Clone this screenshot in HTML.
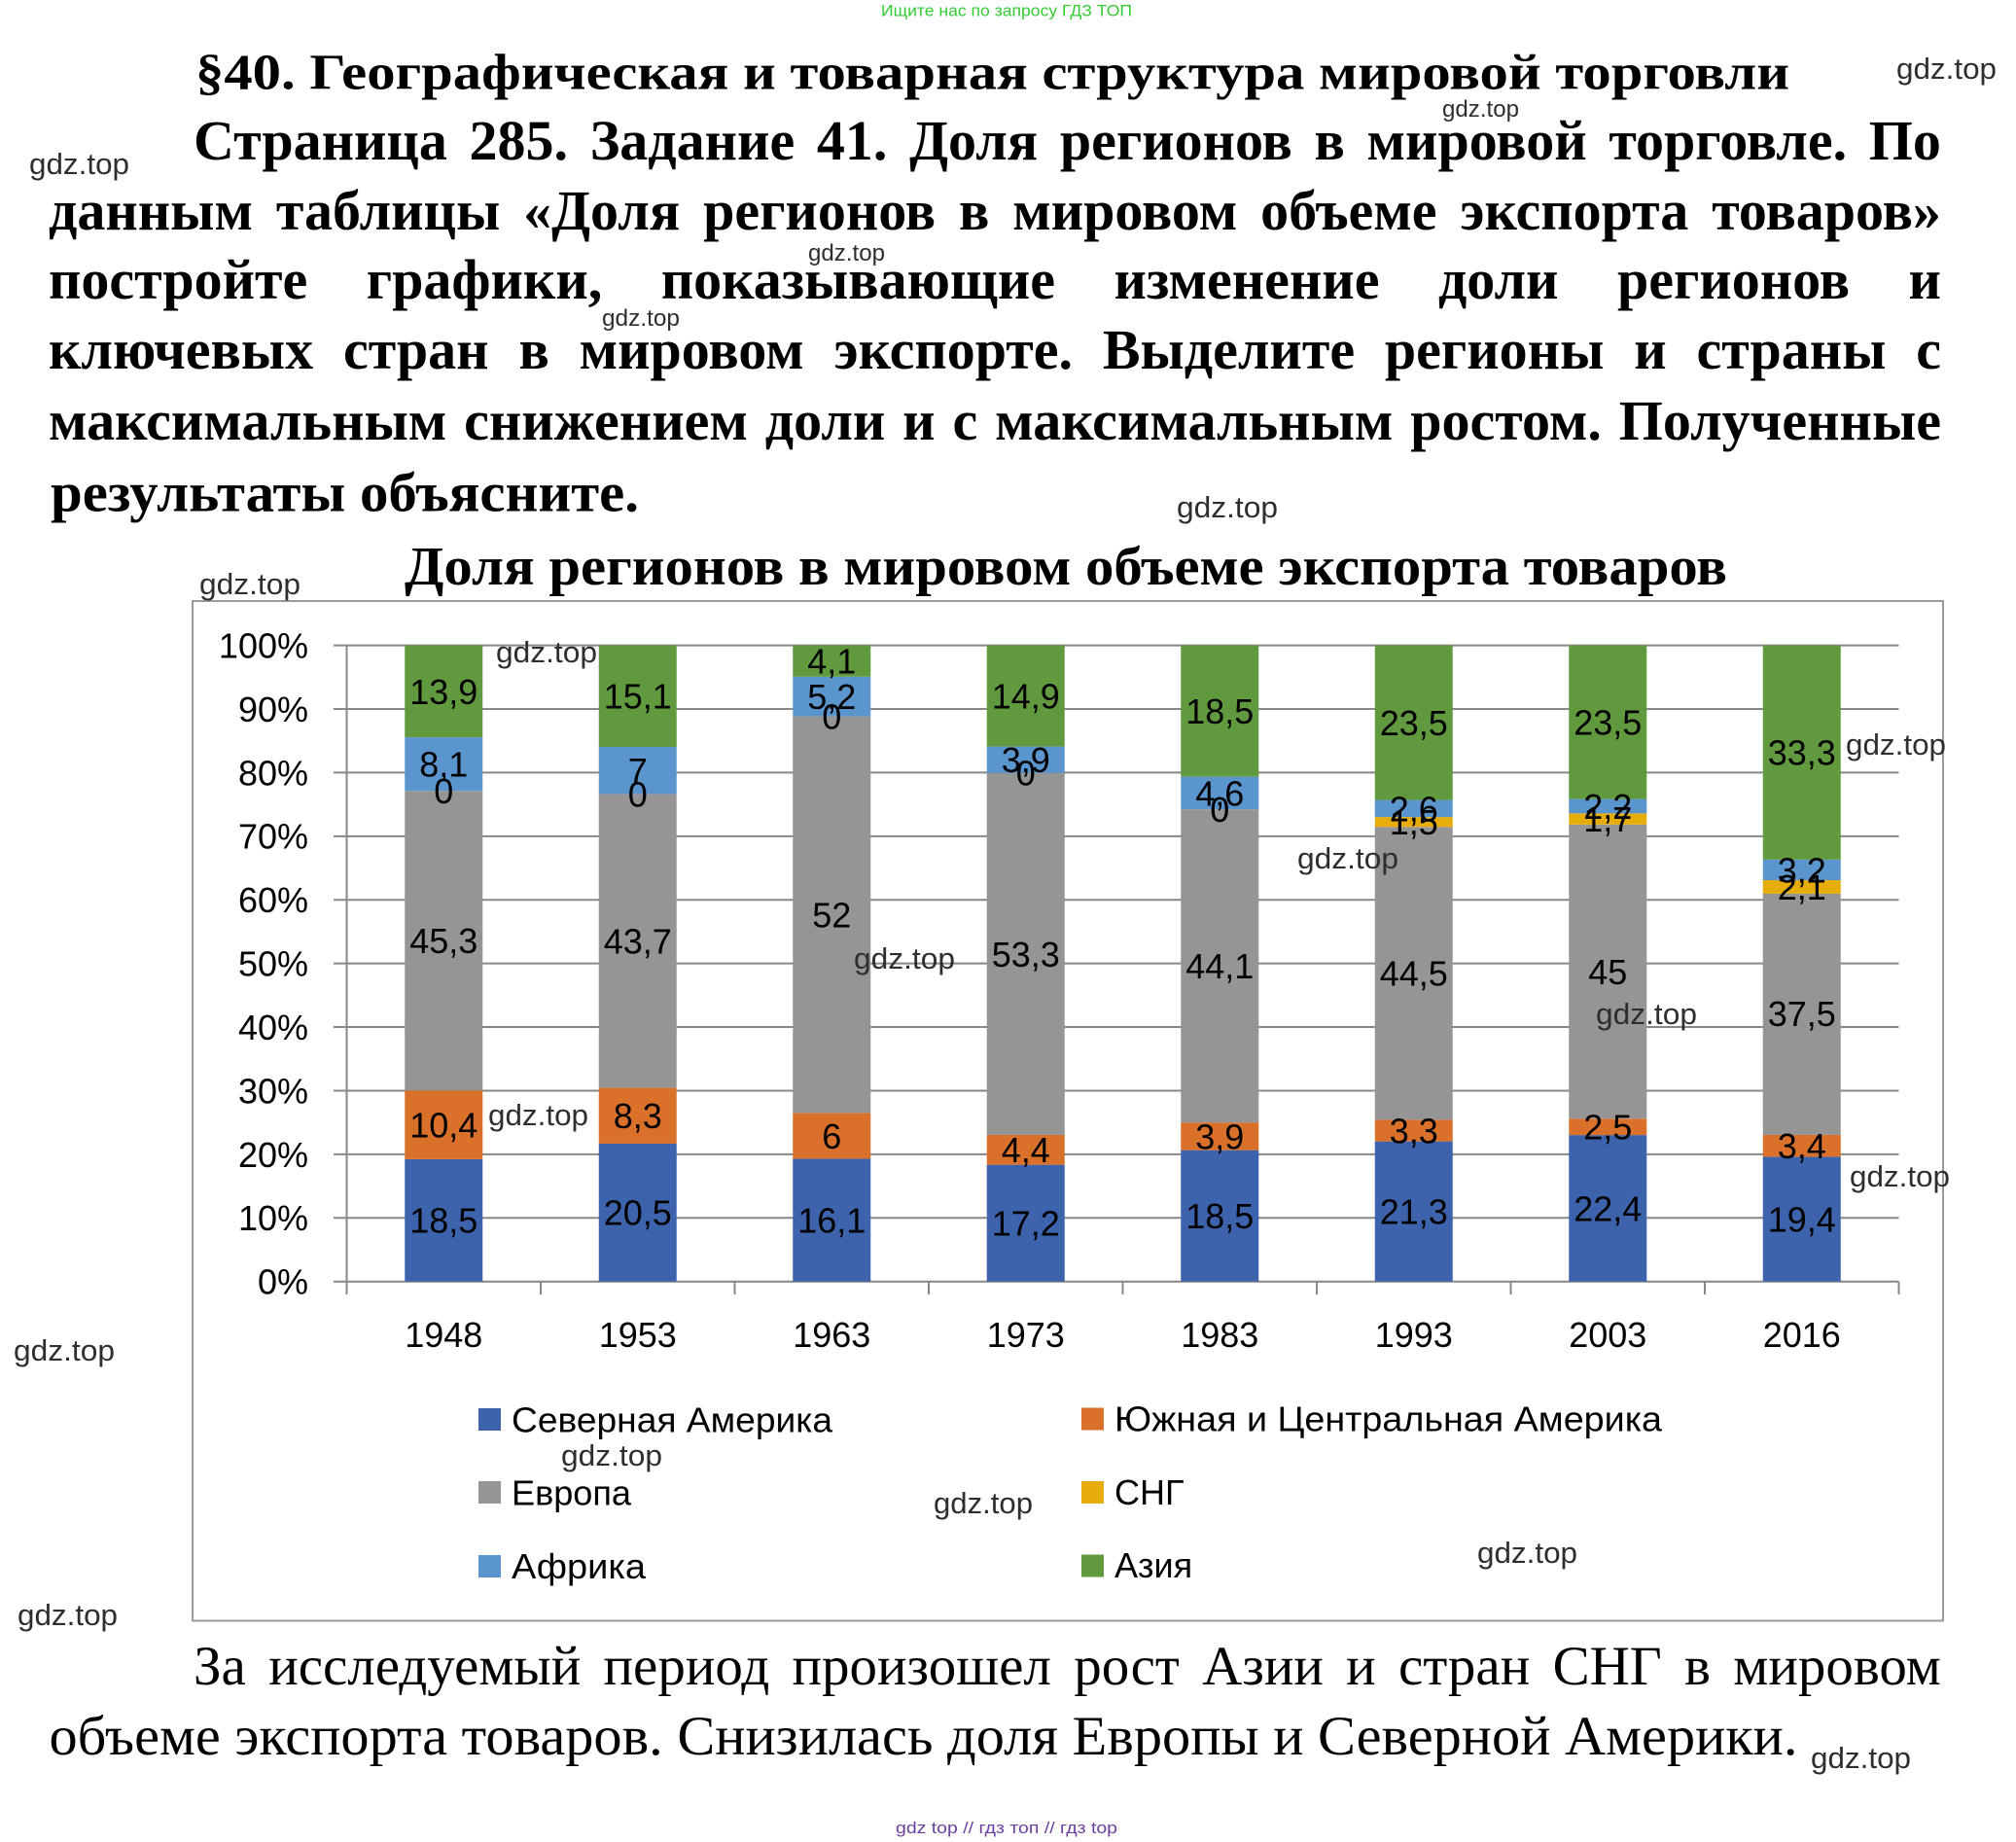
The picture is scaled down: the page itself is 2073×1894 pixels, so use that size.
<!DOCTYPE html>
<html><head><meta charset="utf-8">
<style>
html,body{margin:0;padding:0;background:#fff;}
#root{position:relative;width:2073px;height:1894px;overflow:hidden;background:#fff;}
svg{position:absolute;left:0;top:0;}
.ln{position:absolute;display:flex;justify-content:space-between;align-items:baseline;white-space:nowrap;font-family:"Liberation Serif","Noto Serif CJK SC",serif;font-size:58px;line-height:58px;height:58px;color:#000;}
.b{font-weight:bold;}
.r{font-size:57px;line-height:57px;height:57px;}
</style></head><body><div id="root">
<svg width="2073" height="1894" viewBox="0 0 2073 1894" xmlns="http://www.w3.org/2000/svg">
<g font-family="Liberation Serif, serif" font-weight="bold" fill="#000">
<text x="201" y="91.7" font-size="52" textLength="1639" lengthAdjust="spacingAndGlyphs">§40. Географическая и товарная структура мировой торговли</text>
<text x="52" y="525.5" font-size="57" textLength="605" lengthAdjust="spacingAndGlyphs">результаты объясните.</text>
<text x="416" y="601" font-size="56" textLength="1360" lengthAdjust="spacingAndGlyphs">Доля регионов в мировом объеме экспорта товаров</text>
</g>
<text x="50.5" y="1804" font-family="Liberation Serif, serif" font-size="57" textLength="1798" lengthAdjust="spacingAndGlyphs">объеме экспорта товаров. Снизилась доля Европы и Северной Америки.</text>

<rect x="198" y="618" width="1800" height="1048.5" fill="#fff" stroke="#9a9a9a" stroke-width="2"/>
<g stroke="#878787" stroke-width="2">
<line x1="343" y1="1317.7" x2="1952.5" y2="1317.7"/>
<line x1="343" y1="1252.29" x2="1952.5" y2="1252.29"/>
<line x1="343" y1="1186.88" x2="1952.5" y2="1186.88"/>
<line x1="343" y1="1121.47" x2="1952.5" y2="1121.47"/>
<line x1="343" y1="1056.06" x2="1952.5" y2="1056.06"/>
<line x1="343" y1="990.65" x2="1952.5" y2="990.65"/>
<line x1="343" y1="925.24" x2="1952.5" y2="925.24"/>
<line x1="343" y1="859.83" x2="1952.5" y2="859.83"/>
<line x1="343" y1="794.42" x2="1952.5" y2="794.42"/>
<line x1="343" y1="729.01" x2="1952.5" y2="729.01"/>
<line x1="343" y1="663.6" x2="1952.5" y2="663.6"/>
<line x1="356.5" y1="663.6" x2="356.5" y2="1331"/>
<line x1="556" y1="1317.7" x2="556" y2="1331"/>
<line x1="755.5" y1="1317.7" x2="755.5" y2="1331"/>
<line x1="955" y1="1317.7" x2="955" y2="1331"/>
<line x1="1154.5" y1="1317.7" x2="1154.5" y2="1331"/>
<line x1="1354" y1="1317.7" x2="1354" y2="1331"/>
<line x1="1553.5" y1="1317.7" x2="1553.5" y2="1331"/>
<line x1="1753" y1="1317.7" x2="1753" y2="1331"/>
<line x1="1952.5" y1="1317.7" x2="1952.5" y2="1331"/>
</g>

<g>
<rect x="416.25" y="1191.91" width="80" height="125.79" fill="#3c63ab"/>
<rect x="416.25" y="1121.2" width="80" height="70.71" fill="#d9712b"/>
<rect x="416.25" y="813.19" width="80" height="308.01" fill="#959595"/>
<rect x="416.25" y="758.11" width="80" height="55.08" fill="#5b95cd"/>
<rect x="416.25" y="663.6" width="80" height="94.51" fill="#619a3e"/>
<rect x="615.75" y="1175.96" width="80" height="141.74" fill="#3c63ab"/>
<rect x="615.75" y="1118.57" width="80" height="57.39" fill="#d9712b"/>
<rect x="615.75" y="816.41" width="80" height="302.16" fill="#959595"/>
<rect x="615.75" y="768.01" width="80" height="48.4" fill="#5b95cd"/>
<rect x="615.75" y="663.6" width="80" height="104.41" fill="#619a3e"/>
<rect x="815.25" y="1191.43" width="80" height="126.27" fill="#3c63ab"/>
<rect x="815.25" y="1144.37" width="80" height="47.06" fill="#d9712b"/>
<rect x="815.25" y="736.54" width="80" height="407.83" fill="#959595"/>
<rect x="815.25" y="695.75" width="80" height="40.79" fill="#5b95cd"/>
<rect x="815.25" y="663.6" width="80" height="32.15" fill="#619a3e"/>
<rect x="1014.75" y="1197.63" width="80" height="120.07" fill="#3c63ab"/>
<rect x="1014.75" y="1166.92" width="80" height="30.71" fill="#d9712b"/>
<rect x="1014.75" y="794.84" width="80" height="372.08" fill="#959595"/>
<rect x="1014.75" y="767.61" width="80" height="27.23" fill="#5b95cd"/>
<rect x="1014.75" y="663.6" width="80" height="104.01" fill="#619a3e"/>
<rect x="1214.25" y="1182.65" width="80" height="135.05" fill="#3c63ab"/>
<rect x="1214.25" y="1154.17" width="80" height="28.48" fill="#d9712b"/>
<rect x="1214.25" y="832.24" width="80" height="321.93" fill="#959595"/>
<rect x="1214.25" y="798.65" width="80" height="33.59" fill="#5b95cd"/>
<rect x="1214.25" y="663.6" width="80" height="135.05" fill="#619a3e"/>
<rect x="1413.75" y="1173.62" width="80" height="144.08" fill="#3c63ab"/>
<rect x="1413.75" y="1151.3" width="80" height="22.32" fill="#d9712b"/>
<rect x="1413.75" y="850.29" width="80" height="301.01" fill="#959595"/>
<rect x="1413.75" y="840.15" width="80" height="10.14" fill="#e6ad0a"/>
<rect x="1413.75" y="822.56" width="80" height="17.59" fill="#5b95cd"/>
<rect x="1413.75" y="663.6" width="80" height="158.96" fill="#619a3e"/>
<rect x="1613.25" y="1167.11" width="80" height="150.59" fill="#3c63ab"/>
<rect x="1613.25" y="1150.31" width="80" height="16.8" fill="#d9712b"/>
<rect x="1613.25" y="847.79" width="80" height="302.52" fill="#959595"/>
<rect x="1613.25" y="836.37" width="80" height="11.42" fill="#e6ad0a"/>
<rect x="1613.25" y="821.58" width="80" height="14.79" fill="#5b95cd"/>
<rect x="1613.25" y="663.6" width="80" height="157.98" fill="#619a3e"/>
<rect x="1812.75" y="1189.39" width="80" height="128.31" fill="#3c63ab"/>
<rect x="1812.75" y="1166.9" width="80" height="22.49" fill="#d9712b"/>
<rect x="1812.75" y="918.9" width="80" height="248" fill="#959595"/>
<rect x="1812.75" y="905" width="80" height="13.9" fill="#e6ad0a"/>
<rect x="1812.75" y="883.83" width="80" height="21.17" fill="#5b95cd"/>
<rect x="1812.75" y="663.6" width="80" height="220.23" fill="#619a3e"/>
</g>

<g font-family="Liberation Sans, DejaVu Sans, sans-serif" font-size="36" fill="#000">
<g text-anchor="end">
<text x="317" y="1330.6">0%</text>
<text x="317" y="1265.2">10%</text>
<text x="317" y="1199.8">20%</text>
<text x="317" y="1134.4">30%</text>
<text x="317" y="1069">40%</text>
<text x="317" y="1003.6">50%</text>
<text x="317" y="938.1">60%</text>
<text x="317" y="872.7">70%</text>
<text x="317" y="807.3">80%</text>
<text x="317" y="741.9">90%</text>
<text x="317" y="676.5">100%</text>
</g>
<g text-anchor="middle">
<text x="456.25" y="1384.9">1948</text>
<text x="655.75" y="1384.9">1953</text>
<text x="855.25" y="1384.9">1963</text>
<text x="1054.75" y="1384.9">1973</text>
<text x="1254.25" y="1384.9">1983</text>
<text x="1453.75" y="1384.9">1993</text>
<text x="1653.25" y="1384.9">2003</text>
<text x="1852.75" y="1384.9">2016</text>
<text x="456.25" y="1267.7">18,5</text>
<text x="456.25" y="1169.5">10,4</text>
<text x="456.25" y="980.1">45,3</text>
<text x="456.25" y="826.1">0</text>
<text x="456.25" y="798.6">8,1</text>
<text x="456.25" y="723.8">13,9</text>
<text x="655.75" y="1259.7">20,5</text>
<text x="655.75" y="1160.2">8,3</text>
<text x="655.75" y="980.4">43,7</text>
<text x="655.75" y="829.3">0</text>
<text x="655.75" y="805.1">7</text>
<text x="655.75" y="728.7">15,1</text>
<text x="855.25" y="1267.5">16,1</text>
<text x="855.25" y="1180.8">6</text>
<text x="855.25" y="953.4">52</text>
<text x="855.25" y="749.4">0</text>
<text x="855.25" y="729.1">5,2</text>
<text x="855.25" y="692.6">4,1</text>
<text x="1054.75" y="1270.6">17,2</text>
<text x="1054.75" y="1195.2">4,4</text>
<text x="1054.75" y="993.8">53,3</text>
<text x="1054.75" y="807.7">0</text>
<text x="1054.75" y="794.1">3,9</text>
<text x="1054.75" y="728.5">14,9</text>
<text x="1254.25" y="1263.1">18,5</text>
<text x="1254.25" y="1181.3">3,9</text>
<text x="1254.25" y="1006.1">44,1</text>
<text x="1254.25" y="845.1">0</text>
<text x="1254.25" y="828.4">4,6</text>
<text x="1254.25" y="744">18,5</text>
<text x="1453.75" y="1258.6">21,3</text>
<text x="1453.75" y="1175.4">3,3</text>
<text x="1453.75" y="1013.7">44,5</text>
<text x="1453.75" y="858.1">1,5</text>
<text x="1453.75" y="844.3">2,6</text>
<text x="1453.75" y="756">23,5</text>
<text x="1653.25" y="1255.3">22,4</text>
<text x="1653.25" y="1171.6">2,5</text>
<text x="1653.25" y="1012">45</text>
<text x="1653.25" y="855">1,7</text>
<text x="1653.25" y="841.9">2,2</text>
<text x="1653.25" y="755.5">23,5</text>
<text x="1852.75" y="1266.5">19,4</text>
<text x="1852.75" y="1191.1">3,4</text>
<text x="1852.75" y="1055.1">37,5</text>
<text x="1852.75" y="924.9">2,1</text>
<text x="1852.75" y="907.3">3,2</text>
<text x="1852.75" y="786.6">33,3</text>
</g>

<rect x="492" y="1448" width="23" height="23" fill="#3c63ab"/>
<rect x="492" y="1523" width="23" height="23" fill="#959595"/>
<rect x="492" y="1599" width="23" height="23" fill="#5b95cd"/>
<rect x="1112" y="1447.5" width="23" height="23" fill="#d9712b"/>
<rect x="1112" y="1523" width="23" height="23" fill="#e6ad0a"/>
<rect x="1112" y="1598.5" width="23" height="23" fill="#619a3e"/>
<text x="526" y="1472.5" textLength="330" lengthAdjust="spacingAndGlyphs">Северная Америка</text>
<text x="526" y="1547.5" textLength="123" lengthAdjust="spacingAndGlyphs">Европа</text>
<text x="526" y="1623" textLength="138" lengthAdjust="spacingAndGlyphs">Африка</text>
<text x="1146" y="1471.5" textLength="563" lengthAdjust="spacingAndGlyphs">Южная и Центральная Америка</text>
<text x="1146" y="1547">СНГ</text>
<text x="1146" y="1622">Азия</text>
</g>

<g font-family="Liberation Sans, DejaVu Sans, sans-serif" font-size="31" fill="#2e2e2e">
<text x="1950" y="81" textLength="103" lengthAdjust="spacingAndGlyphs">gdz.top</text>
<text x="30" y="179" textLength="103" lengthAdjust="spacingAndGlyphs">gdz.top</text>
<text x="1210" y="532" textLength="104" lengthAdjust="spacingAndGlyphs">gdz.top</text>
<text x="205" y="611" textLength="104" lengthAdjust="spacingAndGlyphs">gdz.top</text>
<text x="510" y="681" textLength="104" lengthAdjust="spacingAndGlyphs">gdz.top</text>
<text x="878" y="996" textLength="104" lengthAdjust="spacingAndGlyphs">gdz.top</text>
<text x="1334" y="893" textLength="104" lengthAdjust="spacingAndGlyphs">gdz.top</text>
<text x="502" y="1157" textLength="103" lengthAdjust="spacingAndGlyphs">gdz.top</text>
<text x="1641" y="1053" textLength="104" lengthAdjust="spacingAndGlyphs">gdz.top</text>
<text x="1898" y="776" textLength="103" lengthAdjust="spacingAndGlyphs">gdz.top</text>
<text x="1902" y="1220" textLength="103" lengthAdjust="spacingAndGlyphs">gdz.top</text>
<text x="14" y="1399" textLength="104" lengthAdjust="spacingAndGlyphs">gdz.top</text>
<text x="577" y="1507" textLength="104" lengthAdjust="spacingAndGlyphs">gdz.top</text>
<text x="960" y="1556" textLength="102" lengthAdjust="spacingAndGlyphs">gdz.top</text>
<text x="1519" y="1607" textLength="103" lengthAdjust="spacingAndGlyphs">gdz.top</text>
<text x="18" y="1671" textLength="103" lengthAdjust="spacingAndGlyphs">gdz.top</text>
<text x="1862" y="1818" textLength="103" lengthAdjust="spacingAndGlyphs">gdz.top</text>
</g>
<g font-family="Liberation Sans, DejaVu Sans, sans-serif" font-size="24" fill="#2e2e2e">
<text x="1483" y="120" textLength="79" lengthAdjust="spacingAndGlyphs">gdz.top</text>
<text x="831" y="268" textLength="79" lengthAdjust="spacingAndGlyphs">gdz.top</text>
<text x="619" y="335" textLength="80" lengthAdjust="spacingAndGlyphs">gdz.top</text>
</g>
<text x="906" y="16.7" font-family="Liberation Sans, DejaVu Sans, sans-serif" font-size="17" fill="#33cc33" textLength="258" lengthAdjust="spacingAndGlyphs">Ищите нас по запросу ГДЗ ТОП</text>
<text x="921" y="1885" font-family="Liberation Sans, DejaVu Sans, sans-serif" font-size="17" fill="#6b3fa0" textLength="228" lengthAdjust="spacingAndGlyphs">gdz top // гдз топ // гдз top</text>
</svg>

<div class="ln b" style="left:199px;width:1797px;top:116.4px;"><span>Страница</span><span>285.</span><span>Задание</span><span>41.</span><span>Доля</span><span>регионов</span><span>в</span><span>мировой</span><span>торговле.</span><span>По</span></div>
<div class="ln b" style="left:50px;width:1946px;top:187.9px;"><span>данным</span><span>таблицы</span><span>«Доля</span><span>регионов</span><span>в</span><span>мировом</span><span>объеме</span><span>экспорта</span><span>товаров»</span></div>
<div class="ln b" style="left:50px;width:1946px;top:258.9px;"><span>постройте</span><span>графики,</span><span>показывающие</span><span>изменение</span><span>доли</span><span>регионов</span><span>и</span></div>
<div class="ln b" style="left:50px;width:1946px;top:331.4px;"><span>ключевых</span><span>стран</span><span>в</span><span>мировом</span><span>экспорте.</span><span>Выделите</span><span>регионы</span><span>и</span><span>страны</span><span>с</span></div>
<div class="ln b" style="left:50px;width:1946px;top:404.4px;"><span>максимальным</span><span>снижением</span><span>доли</span><span>и</span><span>с</span><span>максимальным</span><span>ростом.</span><span>Полученные</span></div>
<div class="ln r" style="left:199px;width:1797px;top:1685px;"><span>За</span><span>исследуемый</span><span>период</span><span>произошел</span><span>рост</span><span>Азии</span><span>и</span><span>стран</span><span>СНГ</span><span>в</span><span>мировом</span></div>
</div></body></html>
